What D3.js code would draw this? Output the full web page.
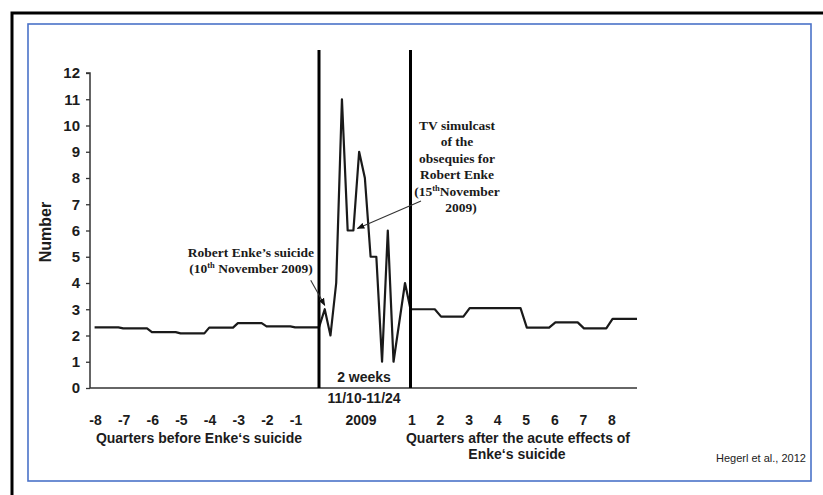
<!DOCTYPE html>
<html>
<head>
<meta charset="utf-8">
<script src="https://cdn.jsdelivr.net/npm/d3@7/dist/d3.min.js"></script>
<style>
  html, body { margin: 0; padding: 0; background: #fff; }
  svg { display: block; }
</style>
</head>
<body>
<svg id="chart" width="823" height="495"></svg>
<script>
// ---------- DATA ----------
const quartersBefore = [-8, -7, -6, -5, -4, -3, -2, -1];
const valuesBefore   = [2.31, 2.27, 2.13, 2.08, 2.30, 2.47, 2.35, 2.31];

const days      = ["11/10","11/11","11/12","11/13","11/14","11/15","11/16","11/17","11/18","11/19","11/20","11/21","11/22","11/23","11/24"];
const dayValues = [3, 2, 4, 11, 6, 6, 9, 8, 5, 5, 1, 6, 1, 2.5, 4];

const quartersAfter = [1, 2, 3, 4, 5, 6, 7, 8];
const valuesAfter   = [3.0, 2.72, 3.04, 3.04, 2.30, 2.5, 2.27, 2.63];

const yTicks = [0,1,2,3,4,5,6,7,8,9,10,11,12];

// ---------- LAYOUT ----------
const svg = d3.select("#chart");
const W = 823, H = 495;
const plotLeft = 90, plotBottom = 388, plotTop = 73, plotRight = 637;
const lineL = 319, lineR = 410.5;

const y = d3.scaleLinear().domain([0, 12]).range([plotBottom, plotTop]);
const xPre  = d3.scaleLinear().domain([-8.19, -0.2]).range([plotLeft, lineL]);
const xDay  = d3.scaleLinear().domain([0, 15]).range([lineL, 405]);
const xPost = d3.scaleLinear().domain([0.95, 8.875]).range([lineR, plotRight]);

const ink = "#1c1c1c";

// frame
svg.append("rect").attr("width", W).attr("height", H).attr("fill", "#fff");
svg.append("path").attr("d", `M12,${H} L12,13 L${W},13`)
  .attr("fill", "none").attr("stroke", "#000").attr("stroke-width", 3);
svg.append("rect").attr("x", 28).attr("y", 24).attr("width", 783).attr("height", 457)
  .attr("fill", "none").attr("stroke", "#4a72c8").attr("stroke-width", 1.6);

// ---------- AXES ----------
const yAxis = d3.axisLeft(y).tickValues(yTicks).tickSize(4).tickPadding(6).tickFormat(d3.format("d"));
const gy = svg.append("g").attr("transform", `translate(${plotLeft},0)`).call(yAxis);
gy.select(".domain").attr("stroke", "#333").attr("stroke-width", 1.5).attr("d", `M-4,${plotTop}H0V${plotBottom}`);
gy.selectAll(".tick line").attr("stroke", "#333").attr("stroke-width", 1.3);
gy.selectAll(".tick text").attr("fill", ink)
  .style("font-family", "'Liberation Sans', Arial, sans-serif")
  .style("font-size", "15px").style("font-weight", "bold");

// x baseline
svg.append("line").attr("x1", plotLeft).attr("x2", plotRight)
  .attr("y1", y(0)).attr("y2", y(0)).attr("stroke", "#333").attr("stroke-width", 1.6);

// x tick labels (quarters)
const tickFont = "'Liberation Sans', Arial, sans-serif";
svg.append("g").selectAll("text").data(quartersBefore).join("text")
  .attr("x", d => xPre(d)).attr("y", 425).attr("text-anchor", "middle")
  .attr("fill", ink).style("font-family", tickFont).style("font-size", "14px").style("font-weight", "bold")
  .text(d => d);
svg.append("g").selectAll("text").data(quartersAfter).join("text")
  .attr("x", d => xPost(d)).attr("y", 425).attr("text-anchor", "middle")
  .attr("fill", ink).style("font-family", tickFont).style("font-size", "14px").style("font-weight", "bold")
  .text(d => d);

function label(txt, x, yy, size, anchor) {
  return svg.append("text").attr("x", x).attr("y", yy).attr("text-anchor", anchor || "middle")
    .attr("fill", ink).style("font-family", tickFont).style("font-size", size + "px").style("font-weight", "bold")
    .text(txt);
}
label("2009", 361, 425, 14);
label("11/10-11/24", 364, 403, 14);
label("2 weeks", 364, 382, 14);
label("Quarters before Enke\u2018s suicide", 199, 443, 14);
label("Quarters after the acute effects of", 518, 443, 14);
label("Enke\u2018s suicide", 517, 459, 14);

svg.append("text").attr("transform", `translate(51,232) rotate(-90)`).attr("text-anchor", "middle")
  .attr("fill", ink).style("font-family", tickFont).style("font-size", "16px").style("font-weight", "bold")
  .text("Number");

svg.append("text").attr("x", 716).attr("y", 462).attr("text-anchor", "start")
  .attr("fill", "#222").style("font-family", "'Liberation Sans', Arial, sans-serif").style("font-size", "11px")
  .text("Hegerl et al., 2012");

// ---------- SERIES ----------
const pts = [];
quartersBefore.forEach((q, i) => {
  const a = Math.max(q - 0.03, -8.19), b = Math.min(q + 0.8, -0.2);
  pts.push([xPre(a), y(valuesBefore[i])]);
  pts.push([xPre(b), y(valuesBefore[i])]);
});
dayValues.forEach((v, i) => pts.push([xDay(i + 1), y(v)]));
quartersAfter.forEach((q, i) => {
  const a = Math.max(q + 0.02, 0.95), b = Math.min(q + 0.8, 8.875);
  pts.push([xPost(i === 0 ? 0.95 : a), y(valuesAfter[i])]);
  pts.push([xPost(i === quartersAfter.length - 1 ? 8.875 : b), y(valuesAfter[i])]);
});
svg.append("path").attr("d", d3.line()(pts))
  .attr("fill", "none").attr("stroke", "#1a1a1a").attr("stroke-width", 2.2).attr("stroke-linejoin", "round");

// vertical separators
[lineL, lineR].forEach(x => {
  svg.append("line").attr("x1", x).attr("x2", x).attr("y1", y(12.88)).attr("y2", y(0))
    .attr("stroke", "#000").attr("stroke-width", 3);
});

// ---------- ANNOTATIONS ----------
const defs = svg.append("defs");
defs.append("marker").attr("id", "ah").attr("viewBox", "0 0 10 10").attr("refX", 9).attr("refY", 5)
  .attr("markerWidth", 7).attr("markerHeight", 7).attr("orient", "auto")
  .append("path").attr("d", "M0,1 L10,5 L0,9 Z").attr("fill", "#111");

const serif = "'Liberation Serif', 'Times New Roman', serif";

// Robert Enke's suicide
const t1 = svg.append("text").attr("text-anchor", "middle").attr("fill", "#1a1a1a")
  .style("font-family", serif).style("font-size", "13.5px").style("font-weight", "bold");
t1.append("tspan").attr("x", 251).attr("y", 257).text("Robert Enke\u2019s suicide");
const l2 = t1.append("tspan").attr("x", 251).attr("y", 273);
l2.append("tspan").text("(10");
l2.append("tspan").attr("dy", -5).style("font-size", "8.5px").text("th");
l2.append("tspan").attr("dy", 5).text(" November 2009)");

// TV simulcast
const t2 = svg.append("text").attr("text-anchor", "middle").attr("fill", "#1a1a1a")
  .style("font-family", serif).style("font-size", "13.5px").style("font-weight", "bold");
["TV simulcast", "of the", "obsequies for", "Robert Enke"].forEach((s, i) => {
  t2.append("tspan").attr("x", 457).attr("y", 130 + i * 16.4).text(s);
});
const l5 = t2.append("tspan").attr("x", 457).attr("y", 130 + 4 * 16.4);
l5.append("tspan").text("(15");
l5.append("tspan").attr("dy", -5).style("font-size", "8.5px").text("th");
l5.append("tspan").attr("dy", 5).text("November");
t2.append("tspan").attr("x", 461).attr("y", 130 + 5 * 16.4).text("2009)");

// arrows (anchored on the data points they mark)
const a1x = xDay(1), a1y = y(dayValues[0]) - 4;
svg.append("line").attr("x1", a1x - 14).attr("y1", a1y - 25).attr("x2", a1x).attr("y2", a1y)
  .attr("stroke", "#333").attr("stroke-width", 1.1).attr("marker-end", "url(#ah)");
const a2x = xDay(6) + 4, a2y = y(dayValues[5]) - 2;
svg.append("line").attr("x1", 421).attr("y1", 201).attr("x2", a2x).attr("y2", a2y)
  .attr("stroke", "#333").attr("stroke-width", 1.1).attr("marker-end", "url(#ah)");
</script>
</body>
</html>
